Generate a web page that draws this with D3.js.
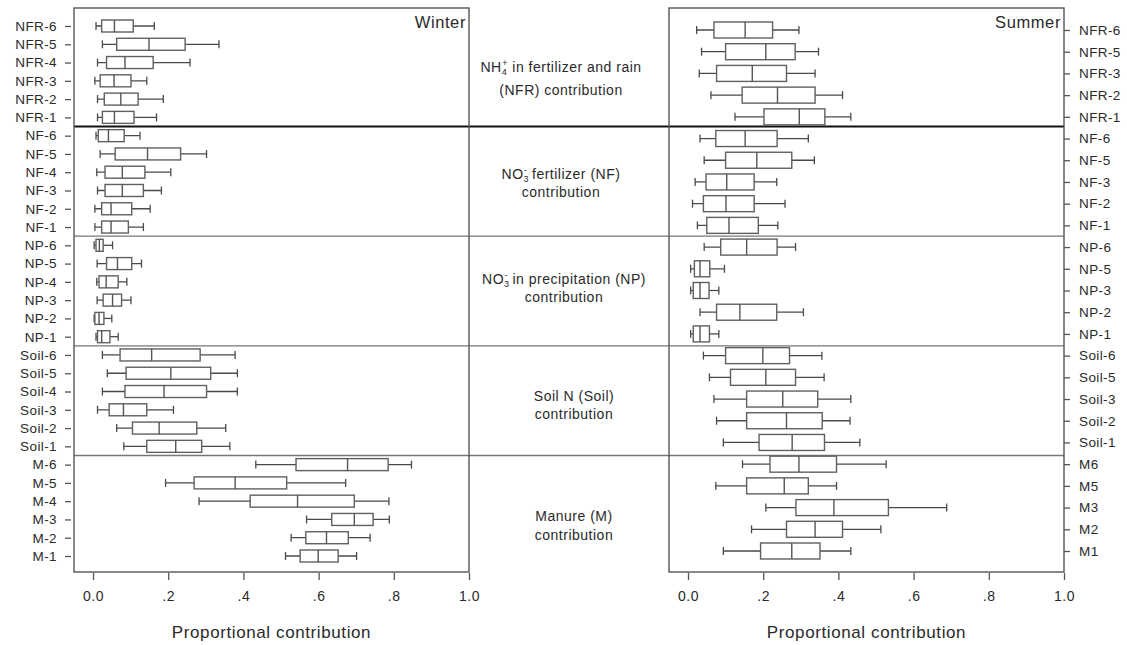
<!DOCTYPE html>
<html><head><meta charset="utf-8">
<script src="https://cdn.jsdelivr.net/npm/d3@7"></script>
<style>body{margin:0;background:#fff}text{font-family:"Liberation Sans",Arial,sans-serif;fill:#2a2a2a}</style>
</head><body>
<svg id="c" width="1127" height="645"></svg>
<script>
// ---------- data ----------
const winterLabels = ["NFR-6","NFR-5","NFR-4","NFR-3","NFR-2","NFR-1",
  "NF-6","NF-5","NF-4","NF-3","NF-2","NF-1",
  "NP-6","NP-5","NP-4","NP-3","NP-2","NP-1",
  "Soil-6","Soil-5","Soil-4","Soil-3","Soil-2","Soil-1",
  "M-6","M-5","M-4","M-3","M-2","M-1"];
const winterMin = [.008,.025,.012,.005,.012,.012, .008,.019,.010,.012,.005,.005, .003,.011,.010,.011,.003,.008, .025,.038,.025,.012,.063,.082, .433,.193,.282,.568,.527,.512];
const winterQ1  = [.023,.063,.036,.019,.030,.025, .014,.059,.032,.032,.023,.023, .008,.036,.016,.027,.005,.012, .072,.088,.085,.043,.105,.143, .540,.269,.418,.635,.566,.551];
const winterMed = [.057,.149,.085,.056,.074,.057, .041,.145,.078,.078,.048,.048, .017,.065,.035,.052,.016,.023, .156,.207,.189,.081,.176,.220, .677,.378,.544,.695,.621,.599];
const winterQ3  = [.107,.245,.160,.101,.120,.109, .083,.233,.138,.134,.103,.094, .027,.103,.067,.076,.029,.045, .285,.313,.302,.143,.276,.289, .785,.515,.695,.745,.679,.652];
const winterMax = [.163,.335,.258,.143,.187,.169, .125,.302,.207,.182,.152,.134, .052,.129,.090,.101,.050,.067, .378,.384,.384,.214,.353,.364, .847,.672,.787,.788,.737,.701];

const summerLabels = ["NFR-6","NFR-5","NFR-3","NFR-2","NFR-1",
  "NF-6","NF-5","NF-3","NF-2","NF-1",
  "NP-6","NP-5","NP-3","NP-2","NP-1",
  "Soil-6","Soil-5","Soil-3","Soil-2","Soil-1",
  "M6","M5","M3","M2","M1"];
const summerMin = [.023,.036,.030,.061,.125, .032,.043,.019,.012,.025, .043,.007,.007,.032,.007, .041,.057,.069,.076,.094, .145,.074,.207,.169,.094];
const summerQ1  = [.069,.100,.076,.144,.202, .074,.100,.048,.041,.050, .087,.017,.014,.076,.014, .100,.113,.156,.156,.189, .218,.156,.287,.262,.193];
const summerMed = [.152,.207,.171,.238,.296, .152,.183,.103,.101,.109, .156,.032,.032,.138,.032, .199,.207,.252,.262,.277, .295,.256,.388,.338,.276];
const summerQ3  = [.225,.285,.262,.338,.364, .237,.276,.176,.176,.187, .237,.058,.056,.236,.057, .270,.286,.345,.357,.363, .395,.320,.533,.411,.351];
const summerMax = [.295,.347,.338,.411,.433, .320,.336,.236,.258,.239, .286,.097,.082,.307,.082, .356,.362,.433,.431,.457, .527,.395,.688,.513,.433];

const xTicks = [0, .2, .4, .6, .8, 1];
const xTickLabels = ["0.0", ".2", ".4", ".6", ".8", "1.0"];
const groupKeys = ["NFR","NF","NP","Soil","M"];
const groupTitles = [
  ["NH_4^+ in fertilizer and rain", "(NFR) contribution"],
  ["NO_3^- fertilizer (NF)", "contribution"],
  ["NO_3^- in precipitation (NP)", "contribution"],
  ["Soil N (Soil)", "contribution"],
  ["Manure (M)", "contribution"]
];
const panelTitles = ["Winter", "Summer"];
const axisTitle = "Proportional contribution";

(function draw() {
const svg = d3.select("#c");
const topY = 8, botY = 572;
const panels = [
  {x0: 74, x1: 469, zero: 93, rowTop: 26, rowBot: 556, labels: winterLabels,
   mn: winterMin, q1: winterQ1, md: winterMed, q3: winterQ3, mx: winterMax, boxH: 12, side: "left", title: panelTitles[0]},
  {x0: 669, x1: 1064, zero: 688, rowTop: 30, rowBot: 551, labels: summerLabels,
   mn: summerMin, q1: summerQ1, md: summerMed, q3: summerQ3, mx: summerMax, boxH: 16, side: "right", title: panelTitles[1]}
];
const grp = l => l.match(/^[A-Za-z]+/)[0];

panels.forEach(p => {
  p.x = d3.scaleLinear().domain([0, 1]).range([p.zero, p.x1]);
  p.y = d3.scalePoint().domain(p.labels).range([p.rowTop, p.rowBot]);
});

const W = panels[0];
const sepY = [];
for (let i = 1; i < groupKeys.length; i++) {
  const lastPrev = W.labels.filter(l => grp(l) === groupKeys[i-1]).slice(-1)[0];
  const firstNext = W.labels.filter(l => grp(l) === groupKeys[i])[0];
  sepY.push((W.y(lastPrev) + W.y(firstNext)) / 2);
}
svg.selectAll("line.sep").data(sepY).join("line")
  .attr("x1", panels[0].x0).attr("x2", panels[1].x1)
  .attr("y1", d => d).attr("y2", d => d)
  .attr("stroke", (d, i) => i === 0 ? "#111" : "#777")
  .attr("stroke-width", (d, i) => i === 0 ? 2 : 1.4);

panels.forEach(p => {
  const g = svg.append("g");
  g.append("rect").attr("x", p.x0).attr("y", topY).attr("width", p.x1 - p.x0).attr("height", botY - topY)
    .attr("fill", "none").attr("stroke", "#555").attr("stroke-width", 1.4);
  const rows = p.labels.map((l, i) => ({l, mn: p.mn[i], q1: p.q1[i], md: p.md[i], q3: p.q3[i], mx: p.mx[i]}));
  const r = g.selectAll("g.row").data(rows).join("g").attr("transform", d => `translate(0,${p.y(d.l)})`);
  r.append("line").attr("x1", d => p.x(d.mn)).attr("x2", d => p.x(d.mx)).attr("stroke", "#4a4a4a").attr("stroke-width", 1.3);
  r.append("line").attr("x1", d => p.x(d.mn)).attr("x2", d => p.x(d.mn)).attr("y1", -4).attr("y2", 4).attr("stroke", "#4a4a4a").attr("stroke-width", 1.3);
  r.append("line").attr("x1", d => p.x(d.mx)).attr("x2", d => p.x(d.mx)).attr("y1", -4).attr("y2", 4).attr("stroke", "#4a4a4a").attr("stroke-width", 1.3);
  r.append("rect").attr("x", d => p.x(d.q1)).attr("width", d => p.x(d.q3) - p.x(d.q1))
    .attr("y", -p.boxH / 2).attr("height", p.boxH).attr("fill", "#fff").attr("stroke", "#606060").attr("stroke-width", 1.4);
  r.append("line").attr("x1", d => p.x(d.md)).attr("x2", d => p.x(d.md)).attr("y1", -p.boxH / 2).attr("y2", p.boxH / 2)
    .attr("stroke", "#555").attr("stroke-width", 1.4);

  const xa = d3.axisBottom(p.x).tickValues(xTicks).tickFormat((d, i) => xTickLabels[i]).tickSize(7).tickPadding(11);
  const gx = svg.append("g").attr("transform", `translate(0,${botY + 1})`).call(xa);
  gx.select(".domain").remove();
  gx.selectAll("line").attr("stroke", "#555").attr("stroke-width", 1.3);
  gx.selectAll("text").style("font-size", "14px").style("letter-spacing", "0.6px").attr("fill", "#333");

  const ya = (p.side === "left" ? d3.axisLeft(p.y) : d3.axisRight(p.y)).tickSize(6).tickPadding(p.side === "left" ? 8 : 9);
  const gy = svg.append("g").attr("transform", `translate(${p.side === "left" ? 71 : p.x1},0)`).call(ya);
  gy.select(".domain").remove();
  gy.selectAll("line").attr("stroke", "#555").attr("stroke-width", 1.3);
  gy.selectAll("text").style("font-size", "13.5px").style("letter-spacing", "0.4px").attr("fill", "#333");

  svg.append("text").attr("x", p.x1 - 3).attr("y", 28).attr("text-anchor", "end")
    .style("font-size", "16.5px").style("letter-spacing", "0.6px").text(p.title);
  svg.append("text").attr("x", (p.x0 + p.x1) / 2).attr("y", 638).attr("text-anchor", "middle")
    .style("font-size", "17px").style("letter-spacing", "0.6px").text(axisTitle);
});

const midX = [561, 561, 564, 574, 574];
const titleY = [[72, 95], [179, 197], [284, 302], [401, 419], [521, 540]];
groupTitles.forEach((lines, gi) => {
  lines.forEach((line, li) => {
    const t = svg.append("text").attr("x", midX[gi]).attr("y", titleY[gi][li]).attr("text-anchor", "middle")
      .style("font-size", "14px").style("letter-spacing", "0.5px");
    const parts = line.split(/(_\d\^[+-])/).filter(s => s.length);
    let pendingDy = 0;
    parts.forEach(part => {
      const m = part.match(/^_(\d)\^([+-])$/);
      if (m) {
        t.append("tspan").attr("dy", 3).style("font-size", "9px").text(m[1]);
        t.append("tspan").attr("dx", -5).attr("dy", -9).style("font-size", "9px").text(m[2]);
        pendingDy = 6;
      } else {
        t.append("tspan").attr("dy", pendingDy || null).text(part);
        pendingDy = 0;
      }
    });
  });
});
})();
</script>
</body></html>
